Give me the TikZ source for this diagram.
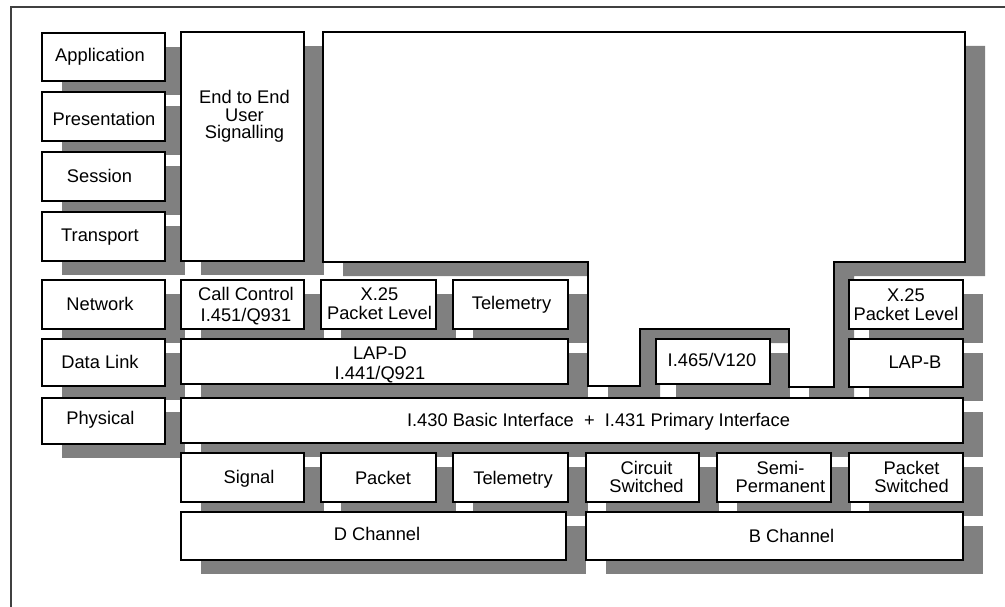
\documentclass[tikz,border=0pt]{standalone}
\usepackage{fontspec}
\setmainfont{Liberation Sans}
\definecolor{shadowgray}{RGB}{128,128,128}
\newcommand\stk[1]{\vbox{\halign{\hfil##\hfil\cr#1\crcr}}}
\def\boxlist{app/42/33/165/81, pres/42/92/165/141, sess/42/152/165/201, trans/42/212/165/261,
  e2e/181/32/304/261, net/42/280/165/329, dl/42/339/165/386, phys/42/398/165/444,
  cc/181/280/304/329, xa/321/280/436/329, tela/453/280/568/329, lapd/181/339/568/384,
  ivl/656/339/770/384, xb/849/280/963/329, lapb/849/339/963/387, pif/181/398/963/443,
  sig/181/453/304/502, pkt/321/453/436/502, telb/453/453/568/502, cs/586/453/699/502,
  sp/717/453/831/502, ps/849/453/963/502, dch/181/512/566/560, bch/586/512/963/560}
\begin{document}
\begin{tikzpicture}[x=1pt,y=-1pt,
  box/.style={draw=black, line width=1.2pt, fill=white, inner sep=0pt, outer sep=0pt},
  shade/.style={fill=shadowgray},
  lbl/.style={anchor=base, inner sep=0pt, font=\fontsize{18.3}{19.5}\selectfont},
  frame/.style={draw=black!75, line width=1.5pt}]
\useasboundingbox (0,0) rectangle (1005,607);
% outer frame (open at right and bottom)
\coordinate (fbl) at (11,612);
\coordinate (ftl) at (11,7);
\coordinate (ftr) at (1010,7);
\draw[frame] (fbl) -- (ftl) -- (ftr);
% shadows
\foreach \n/\a/\b/\c/\d in \boxlist {
  \fill[shade] (\a+20,\b+14) rectangle (\c+20,\d+14);
}
\fill[shade, shift={(20,14)}] (323,32) -- (965,32) -- (965,262) -- (834,262) -- (834,387)
  -- (789,387) -- (789,329) -- (640,329) -- (640,386) -- (588,386) -- (588,262) -- (323,262) -- cycle;
% big empty region
\draw[box] (323,32) -- (965,32) -- (965,262) -- (834,262) -- (834,387)
  -- (789,387) -- (789,329) -- (640,329) -- (640,386) -- (588,386) -- (588,262) -- (323,262) -- cycle;
% boxes
\foreach \n/\a/\b/\c/\d in \boxlist {
  \node[box, minimum width={(\c-\a)*1pt}, minimum height={(\d-\b)*1pt}] (\n) at ({(\a+\c)/2},{(\b+\d)/2}) {};
}
% labels
\node[lbl] (tapp) at (100,62) {Application};
\node[lbl] (tpres) at (104,126) {Presentation};
\node[lbl] (tsess) at (99.5,183) {Session};
\node[lbl] (ttrans) at (100,242) {Transport};
\node[lbl, font=\fontsize{18.3}{17.5}\selectfont] (te2e) at (244.5,139) {\stk{End to End\cr User\cr Signalling}};
\node[lbl] (tnet) at (100,310) {Network};
\node[lbl] (tdl) at (100,368.7) {Data Link};
\node[lbl] (tphys) at (100.4,424) {Physical};
\node[lbl, font=\fontsize{18.3}{21}\selectfont] (tcc) at (246,321) {\stk{Call Control\cr I.451/Q931}};
\node[lbl, font=\fontsize{18.3}{19}\selectfont] (txa) at (379.5,319.5) {\stk{X.25\cr Packet Level}};
\node[lbl] (ttela) at (511.5,309) {Telemetry};
\node[lbl, font=\fontsize{18.3}{20}\selectfont] (tlapd) at (380,379) {\stk{LAP-D\cr I.441/Q921}};
\node[lbl] (tivl) at (712,366.7) {I.465/V120};
\node[lbl, font=\fontsize{18.3}{19}\selectfont] (txb) at (906,320.7) {\stk{X.25\cr Packet Level}};
\node[lbl] (tlapb) at (915,368.3) {LAP-B};
\node[lbl] (tpif) at (598.5,426) {I.430 Basic Interface \ + \ I.431 Primary Interface};
\node[lbl] (tsig) at (249,483.3) {Signal};
\node[lbl] (tpkt) at (383,484) {Packet};
\node[lbl] (ttelb) at (513,484) {Telemetry};
\node[lbl, font=\fontsize{18.3}{18.7}\selectfont] (tcs) at (646.5,492.7) {\stk{Circuit\cr Switched}};
\node[lbl, font=\fontsize{18.3}{18.7}\selectfont] (tsp) at (780.5,492.7) {\stk{Semi-\cr Permanent}};
\node[lbl, font=\fontsize{18.3}{18.7}\selectfont] (tps) at (911.6,492.7) {\stk{Packet\cr Switched}};
\node[lbl] (tdch) at (377,540.7) {D Channel};
\node[lbl] (tbch) at (791.5,542.7) {B Channel};
\end{tikzpicture}
\end{document}
